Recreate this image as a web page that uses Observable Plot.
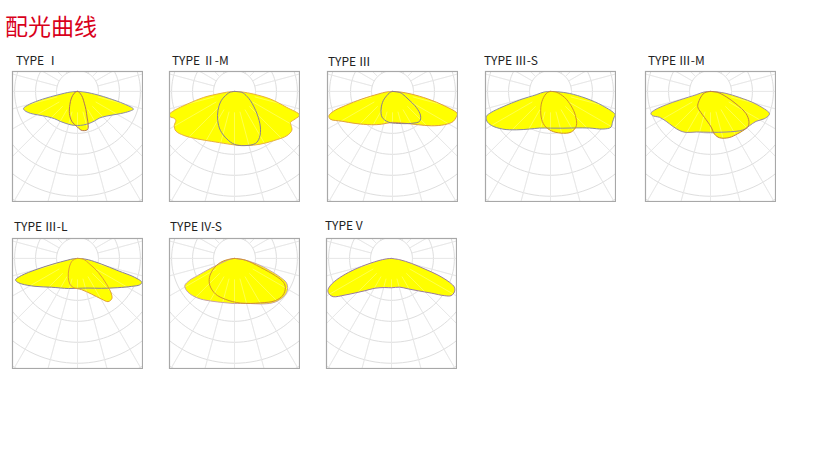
<!DOCTYPE html>
<html><head><meta charset="utf-8">
<script src="https://cdn.jsdelivr.net/npm/d3@7"></script>
<script src="https://cdn.jsdelivr.net/npm/@observablehq/plot@0.6"></script>
<style>
body{margin:0;background:#fff;}
#page{position:relative;width:819px;height:467px;overflow:hidden;font-family:"Noto Sans CJK SC","Noto Sans",sans-serif;}
#title{position:absolute;left:5px;top:14px;color:#d9001b;font-size:23px;line-height:1;white-space:nowrap;}
.lbl{position:absolute;font-size:12px;line-height:1;color:#222;white-space:nowrap;}
.panel{position:absolute;}
</style></head>
<body><div id="page"><div id="title">配光曲线</div></div>
<script>
// ---- data: luminous intensity [gamma (deg), cd/klm] per plane ----
const typeNames = ["TYPE Ⅰ", "TYPE Ⅱ-M", "TYPE Ⅲ", "TYPE Ⅲ-S", "TYPE Ⅲ-M", "TYPE Ⅲ-L", "TYPE IV-S", "TYPE V"];
const ringValues = [20, 40, 60, 80, 100, 120, 140];

const typeI_C0 = [[-90,0],[-85,7],[-80,19],[-77.5,34],[-75,47.5],[-72.5,54],[-70,53.5],[-65,49.5],[-60,44.5],[-50,37.5],[-40,34],[-30,33],[-20,32.5],[-10,32.5],[0,32.5],[10,32.5],[20,32.5],[30,32.5],[40,33],[50,36.5],[60,43.5],[65,48.5],[70,54],[72.5,56],[75,46],[77.5,31],[80,20],[85,7],[90,0]];
const typeI_C90 = [[-90,0],[-80,1],[-70,2],[-60,4],[-50,6],[-40,9.5],[-30,14.5],[-20,22.5],[-10,29.5],[0,34],[5,37],[10,38],[15,37.5],[18,33],[20,27],[25,19],[30,13],[40,7.5],[50,4],[60,2],[70,1],[80,0.5],[90,0]];

const typeIIM_C0 = [[-90,0],[-85,6],[-82,13],[-79,30],[-75,46.5],[-72.5,60],[-70.5,66],[-68.5,66],[-66,63],[-63.5,62.5],[-60.5,66],[-56,67.5],[-49,64],[-38,57.5],[-25,52.5],[-8,50.5],[0,51],[13,53],[26,56],[38.5,60],[50,65.5],[56,66],[59,63],[61,61],[65.5,63.5],[70,66],[73,52],[78,35],[82,18.5],[86,7],[90,0]];
const typeIIM_C90 = [[-90,0],[-80,4],[-70,7.5],[-55,15.5],[-41,24],[-30,32],[-20,39.5],[-9,46],[0,50.5],[10,52.5],[22,53.5],[28.5,50],[36,42],[45,30.5],[60,17.5],[75,10],[83,7],[90,0]];

const typeIII_C0 = [[-90,0],[-85,6],[-79.5,14],[-76,30],[-73.3,47],[-71.4,59.5],[-69,65],[-66,65],[-59.5,56],[-49.5,47],[-32,37.5],[-18.5,33],[0,29.5],[21,32.5],[37.5,40],[48.5,49.5],[57.5,59],[63.5,64.5],[68,65.5],[71,65.5],[74.5,51.5],[78,34.5],[82,18],[86,7],[90,0]];
const typeIII_C90 = [[-90,0],[-70,2],[-58,5],[-45,12.5],[-33,20],[-22,26.5],[-8,29.5],[10,31],[31,35.5],[42,38.5],[49,35.5],[56,27.5],[64,16.5],[75,10],[82,7],[90,0]];

const typeIIIS_C0 = [[-90,0],[-85,6],[-77,14],[-74.5,30.5],[-72.2,47.5],[-70.5,60],[-68.8,65.5],[-65,67],[-60,65],[-51.7,58],[-41.6,49],[-29,41],[-16.7,36.5],[0,35],[18.6,37],[35,42.5],[46.8,51],[54.3,61.5],[59.3,67],[63.6,66],[68,65.5],[70.3,65.5],[74.7,51.5],[79,34.5],[84,18],[87,7],[90,0]];
const typeIIIS_C90 = [[-90,0],[-70,3],[-54,7],[-36,15],[-20,26],[-10,33],[1,37.5],[14,41],[27,43.5],[37,41],[46,33],[55,24],[67,14.5],[83,5.5],[90,0]];

const typeIIIM_C0 = [[-90,0],[-85,6],[-77,14],[-74.4,30.5],[-73.3,44],[-71.6,56],[-69.9,60.5],[-67.4,60],[-63,54.5],[-56,51],[-47,49],[-38,47.5],[-30.7,45.5],[-19.3,41],[0,39],[21,41.5],[40,48],[48.6,49.5],[56.7,52],[63,57.5],[67.4,60],[69.6,60],[74.5,45],[78.3,28],[82.7,15],[86,6],[90,0]];
const typeIIIM_C90 = [[-90,0],[-80,4],[-71,7.5],[-51,14],[-40,19],[-25,22],[-13,25.5],[1,34],[5.4,41],[11,45],[22,47.5],[33,48],[39,48.5],[47,49],[52,46.5],[58,40],[64,27],[71,16],[82,7],[90,0]];

const typeIIIL_C0 = [[-90,0],[-85,4],[-80,10],[-77,24],[-75,40],[-73,56],[-71,62.5],[-69,62],[-65.4,58.5],[-56.7,48.5],[-42,37],[-17,30],[0,28.5],[19.6,30],[38.7,36.5],[54,47.5],[62.6,58],[67,64.5],[69.6,65.5],[71.7,57.5],[73.1,40.5],[76.7,23.5],[83,10.5],[87,4],[90,0]];
const typeIIIL_C90 = [[-90,0],[-75,3],[-61,6.5],[-39,13],[-26,20],[-16.6,25.5],[-8.5,28],[7.3,30],[21.4,36.5],[30.5,45],[35.3,50.5],[40.4,50.5],[43.6,47],[48.5,37],[56,24],[65,13],[83,5.5],[90,0]];

const typeIVS_C0 = [[-90,0],[-80,4],[-72.6,10.5],[-67.4,24.5],[-65,39],[-63.9,48],[-61.3,54],[-56,55],[-48.6,53.5],[-40,50.5],[-25.5,45.5],[-9.3,43],[0,43],[15.7,44.5],[29.7,50],[40,55.5],[46.3,58],[53.3,59.5],[60,58.5],[65,54.5],[67.6,47.5],[71,36],[76,22],[82,9],[90,0]];
const typeIVS_C90 = [[-90,0],[-80,7],[-74,14],[-63.4,22.5],[-52.8,30],[-42,35],[-28,38.5],[-12.3,40],[7.7,43],[30,49],[44,56],[53,58],[60,56],[64,52],[67,42.5],[71,26],[81,10.5],[90,0]];

const typeV_C0 = [[-90,0],[-85,5],[-80,13],[-75,29.5],[-72,43],[-68.8,56],[-66,64],[-63.2,68],[-60,68.5],[-56.7,66.5],[-51.8,56.5],[-46.6,48],[-39.5,40],[-29,32.5],[-12.9,28.5],[0,28],[16,28.5],[28.5,33],[39.5,40],[49,50.5],[55,62],[58,67],[62,68],[65.4,66],[67.6,60],[70.3,47],[72.3,33.5],[76,19.5],[81,8],[90,0]];

const curvesC0 = [typeI_C0, typeIIM_C0, typeIII_C0, typeIIIS_C0, typeIIIM_C0, typeIIIL_C0, typeIVS_C0, typeV_C0];
const curvesC90 = [typeI_C90, typeIIM_C90, typeIII_C90, typeIIIS_C90, typeIIIM_C90, typeIIIL_C90, typeIVS_C90, null];

// ---- layout & style ----
const layout = [
  {left:12, top:71, lx:16, ly:54}, {left:168.5, top:71, lx:172, ly:54}, {left:327, top:71, lx:328, ly:55},
  {left:485, top:71, lx:484, ly:54}, {left:645, top:71, lx:648, ly:54},
  {left:11.5, top:238, lx:14, ly:220}, {left:169, top:238, lx:170, ly:220}, {left:326, top:238, lx:325, ly:219}
];
const strokes = [
  ["#8c8aa8","#b0705a"], ["#e8b040","#8a8090"], ["#e0a040","#8a7a90"], ["#8a8a9a","#d0902a"],
  ["#9a8aa0","#c08040"], ["#8a8098","#e0a030"], ["#c8a0a8","#d09030"], ["#9a7aa0",null]
];
const yellow = "#ffff00";
const spokeStep = 15;

const rad = Math.PI / 180;
const toXY = pts => pts.map(([g, r]) => ({x: r * Math.sin(g * rad), y: -r * Math.cos(g * rad)}));
const ringPts = ringValues.flatMap(R => d3.range(0, 361, 3).map(a => ({ring: R, x: R * Math.sin(a * rad), y: -R * Math.cos(a * rad)})));
const spokes = d3.range(0, 360, spokeStep).map(a => ({x1: ringValues[0] * Math.sin(a * rad), y1: -ringValues[0] * Math.cos(a * rad), x2: 180 * Math.sin(a * rad), y2: -180 * Math.cos(a * rad)}));

const page = document.getElementById("page");
typeNames.forEach((name, i) => {
  const L = layout[i];
  const lbl = document.createElement("div");
  lbl.className = "lbl"; lbl.textContent = name;
  lbl.style.left = L.lx + "px"; lbl.style.top = L.ly + "px";
  page.appendChild(lbl);

  const c0 = toXY(curvesC0[i]);
  const c90 = curvesC90[i] ? toXY(curvesC90[i]) : null;
  const marks = [
    Plot.line(ringPts, {x: "x", y: "y", z: "ring", stroke: "#dedede", strokeWidth: 1, clip: true}),
    Plot.link(spokes, {x1: "x1", y1: "y1", x2: "x2", y2: "y2", stroke: "#dedede", strokeWidth: 1, clip: true}),
    Plot.line(c0, {x: "x", y: "y", fill: yellow, stroke: "none", curve: "catmull-rom", clip: true}),
  ];
  if (c90) marks.push(Plot.line(c90, {x: "x", y: "y", fill: yellow, stroke: "none", curve: "catmull-rom", clip: true}));
  marks.push(
    Plot.link(spokes, {x1: "x1", y1: "y1", x2: "x2", y2: "y2", stroke: "#ffffff", strokeOpacity: 0.3, strokeWidth: 1, clip: true}),
    Plot.line(c0, {x: "x", y: "y", stroke: strokes[i][0], strokeWidth: 1, curve: "catmull-rom", clip: true})
  );
  if (c90) marks.push(Plot.line(c90, {x: "x", y: "y", stroke: strokes[i][1], strokeWidth: 1, curve: "catmull-rom", clip: true}));
  marks.push(Plot.frame({stroke: "#a8a8a8", strokeWidth: 1.2}));

  const chart = Plot.plot({
    width: 132, height: 132, margin: 1,
    x: {domain: [-62, 62], axis: null},
    y: {domain: [-105, 19], axis: null},
    marks
  });
  const wrap = document.createElement("div");
  wrap.className = "panel";
  wrap.style.left = (L.left - 1) + "px"; wrap.style.top = (L.top - 1) + "px";
  wrap.appendChild(chart);
  page.appendChild(wrap);
});
</script>
</body></html>
